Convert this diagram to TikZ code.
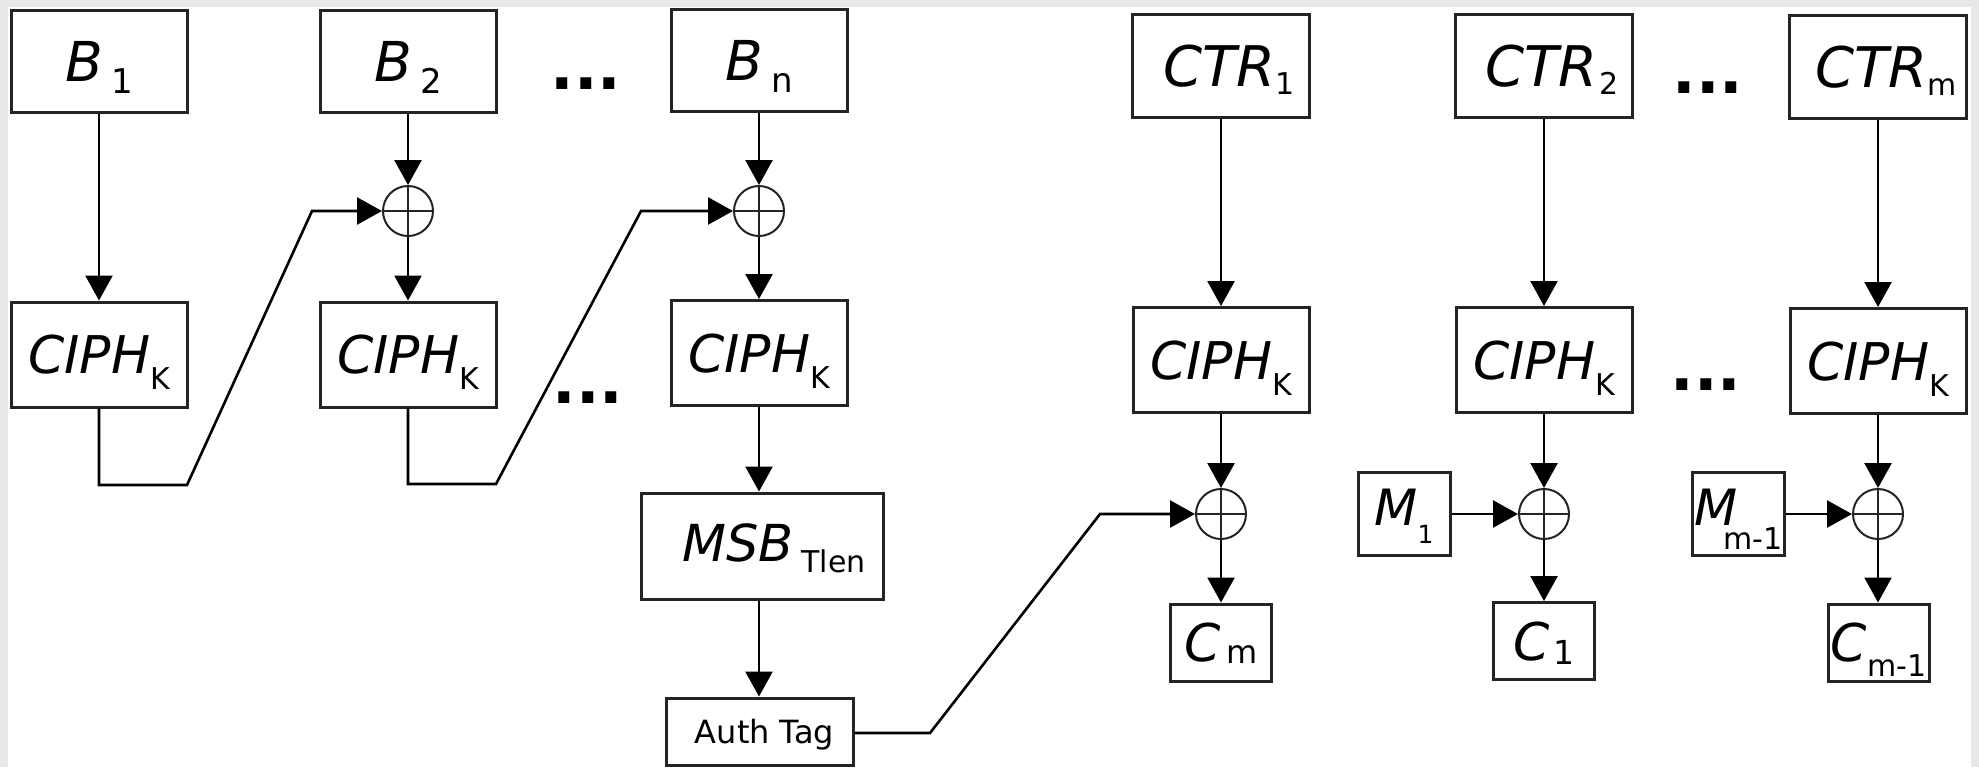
\documentclass[tikz,border=0pt]{standalone}
\usepackage{fontspec}
\setmainfont{DejaVu Sans}
\usetikzlibrary{arrows.meta}

\definecolor{edge}{RGB}{36,36,36}
\definecolor{frame}{RGB}{232,232,232}

% lowered subscript: size, drop, text
\newcommand{\subtxt}[3]{\raisebox{-#2}{\fontsize{#1}{#1}\selectfont #3}}

\begin{document}
\begin{tikzpicture}[x=0.5pt,y=-0.5pt,
  box/.style={draw=edge, line width=1.5pt, fill=white, inner sep=0pt, text depth=0pt},
  bbox/.style={box, minimum width=88pt, minimum height=51pt,
    font=\fontsize{27.5}{30}\selectfont, text height=20pt},
  ctrbox/.style={box, minimum width=88.5pt, minimum height=51.5pt,
    font=\fontsize{28}{30}\selectfont, text height=20.4pt},
  ciphbox/.style={box, minimum width=88pt, minimum height=52.5pt,
    font=\fontsize{26}{30}\selectfont, text height=19pt},
  msbbox/.style={box, minimum width=121pt, minimum height=53pt,
    font=\fontsize{25.5}{30}\selectfont, text height=18.6pt, text depth=3.5pt},
  tagbox/.style={box, minimum width=93.5pt, minimum height=33.5pt,
    font=\fontsize{16}{18}\selectfont, text height=11.7pt},
  mbox/.style={box, minimum width=46pt, minimum height=41.5pt,
    font=\fontsize{25}{28}\selectfont, text height=18.2pt, text depth=7pt},
  cbox/.style={box, minimum width=50.5pt, minimum height=38.5pt,
    font=\fontsize{26}{28}\selectfont, text height=19pt},
  xorop/.style={circle, draw=edge, line width=1pt, minimum size=25pt, inner sep=0pt,
    path picture={\draw[line width=1.1pt, edge]
      (path picture bounding box.north) -- (path picture bounding box.south)
      (path picture bounding box.west) -- (path picture bounding box.east);}},
  dotrow/.style={inner sep=0pt, anchor=base, font=\fontsize{31}{31}\selectfont\bfseries},
  wire/.style={draw=black, line width=1.3pt},
  arr/.style={wire, -{Triangle[length=12.5pt,width=13.5pt]}}
]
% page and frame strips
\useasboundingbox (0,0) rectangle (1979,767);
\fill[white] (0,0) rectangle (1979,767);
\fill[frame] (0,0) rectangle (1979,7);
\fill[frame] (0,0) rectangle (8,767);
\fill[frame] (1971,0) rectangle (1979,767);

% ---- CBC-MAC part ----
\node[bbox] (B1) at (99,61) {\textit{B}\hspace{4pt}\subtxt{17pt}{6pt}{1}};
\node[bbox] (B2) at (408,61) {\textit{B}\hspace{4pt}\subtxt{17pt}{6pt}{2}};
\node[bbox] (Bn) at (759,60) {\textit{B}\hspace{4pt}\subtxt{17pt}{6pt}{n}};

\node[xorop] (X2) at (408,211) {};
\node[xorop] (Xn) at (759,211) {};

\node[ciphbox] (K1) at (99,354.5) {\textit{CIPH}\subtxt{15pt}{8pt}{K}};
\node[ciphbox] (K2) at (408,354.5) {\textit{CIPH}\subtxt{15pt}{8pt}{K}};
\node[ciphbox] (Kn) at (759,353) {\textit{CIPH}\subtxt{15pt}{8pt}{K}};

\node[msbbox] (MSB) at (762,546) {\hspace{12pt}\textit{MSB}\hspace{4pt}\subtxt{15pt}{5.5pt}{Tlen}};
\node[tagbox] (Tag) at (759.5,731.5) {\hspace{5pt}Auth Tag};

\node[dotrow] (dA) at (586,89) {...};
\node[dotrow] (dB) at (588,403) {...};

% ---- counter part ----
\node[ctrbox] (T1) at (1221,66) {\hspace{8pt}\textit{CTR}\subtxt{15pt}{4pt}{1}};
\node[ctrbox] (T2) at (1544,66) {\hspace{8pt}\textit{CTR}\hspace{1pt}\subtxt{15pt}{4pt}{2}};
\node[ctrbox] (Tm) at (1878,67) {\hspace{8pt}\textit{CTR}\subtxt{15pt}{4pt}{m}};

\node[ciphbox] (E1) at (1221,360) {\textit{CIPH}\subtxt{15pt}{8pt}{K}};
\node[ciphbox] (E2) at (1544,360) {\textit{CIPH}\subtxt{15pt}{8pt}{K}};
\node[ciphbox] (Em) at (1878,361) {\textit{CIPH}\subtxt{15pt}{8pt}{K}};

\node[xorop] (Y1) at (1221,514) {};
\node[xorop] (Y2) at (1544,514) {};
\node[xorop] (Ym) at (1878,514) {};

\node[mbox] (M1) at (1404,514) {\textit{M}\subtxt{12.5pt}{9pt}{1}};
\node[mbox] (Mm) at (1738.5,514) {\textit{M}\hspace{-7pt}\subtxt{15pt}{12pt}{m-1}};

\node[cbox] (Cm) at (1221,642.5) {\textit{C}\hspace{3pt}\subtxt{16pt}{1pt}{m}};
\node[cbox] (C1) at (1544,641) {\textit{C}\hspace{2pt}\subtxt{16.5pt}{2pt}{1}};
\node[cbox] (Cm1) at (1878.5,642.5) {\textit{C}\subtxt{15pt}{7.5pt}{m-1}};

\node[dotrow] (dC) at (1708,93) {...};
\node[dotrow] (dD) at (1706,390) {...};

% ---- connectors ----
\draw[arr] (B1.south) -- (B1.south |- K1.north);
\draw[arr] (B2.south) -- (B2.south |- X2.north);
\draw[arr] (X2.south) -- (X2.south |- K2.north);
\draw[arr] (Bn.south) -- (Bn.south |- Xn.north);
\draw[arr] (Xn.south) -- (Xn.south |- Kn.north);
\draw[arr] (Kn.south) -- (Kn.south |- MSB.north);
\draw[arr] (Kn.south |- MSB.south) -- (Kn.south |- Tag.north);

\coordinate (a1) at (99,485);
\coordinate (a2) at (187,485);
\coordinate (a3) at (312,211);
\draw[arr] (K1.south) -- (a1) -- (a2) -- (a3) -- (X2.west);

\coordinate (b1) at (408,484);
\coordinate (b2) at (496,484);
\coordinate (b3) at (641,211);
\draw[arr] (K2.south) -- (b1) -- (b2) -- (b3) -- (Xn.west);

\coordinate (c1) at (930,733);
\coordinate (c2) at (1100,514);
\draw[arr] (Tag.east |- c1) -- (c1) -- (c2) -- (Y1.west);

\draw[arr] (T1.south) -- (T1.south |- E1.north);
\draw[arr] (E1.south) -- (E1.south |- Y1.north);
\draw[arr] (Y1.south) -- (Y1.south |- Cm.north);

\draw[arr] (T2.south) -- (T2.south |- E2.north);
\draw[arr] (E2.south) -- (E2.south |- Y2.north);
\draw[arr] (Y2.south) -- (Y2.south |- C1.north);
\draw[arr] (M1.east) -- (Y2.west);

\draw[arr] (Tm.south) -- (Tm.south |- Em.north);
\draw[arr] (Em.south) -- (Em.south |- Ym.north);
\draw[arr] (Ym.south) -- (Ym.south |- Cm1.north);
\draw[arr] (Mm.east) -- (Ym.west);
\end{tikzpicture}
\end{document}
